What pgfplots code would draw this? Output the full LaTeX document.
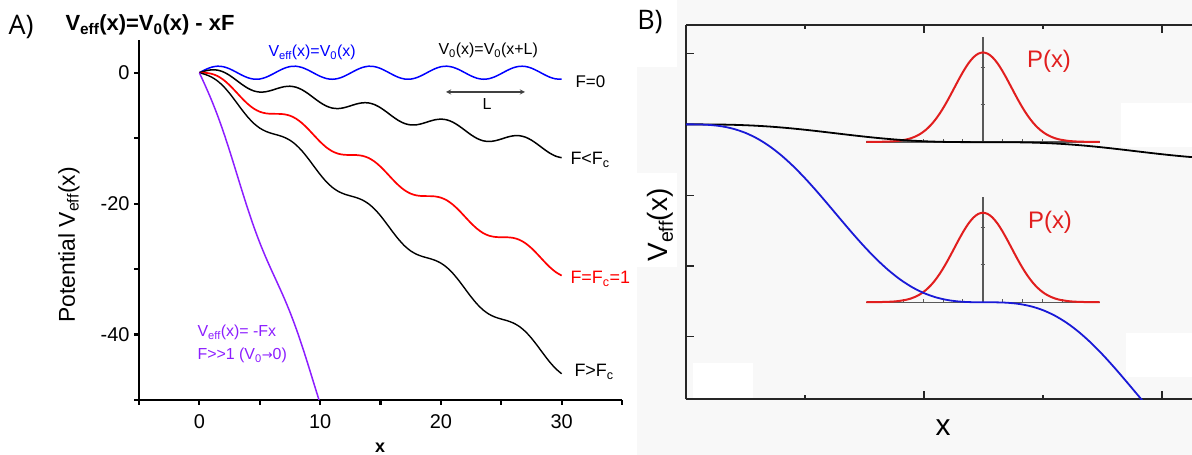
\documentclass[border=0pt]{standalone}
\usepackage{fontspec}
\setmainfont{Liberation Sans}
\newfontfamily\lightfont{Open Sans}
\newfontfamily\djv{DejaVu Sans}
\usepackage{pgfplots}
\pgfplotsset{compat=1.18}
\usepackage{pgfplotstable}
\definecolor{vio}{RGB}{140,30,255}
\definecolor{bred}{RGB}{225,30,30}
\definecolor{bblue}{RGB}{25,25,215}
\definecolor{bgB}{RGB}{248,248,248}
\newcommand{\fs}[1]{\fontsize{#1}{#1}\selectfont}

\pgfplotstableread{
x F0 F04 F1 F15
0 0 0 0 0
0.5 0.4794 0.2794 -0.0206 -0.2706
1 0.8415 0.4415 -0.1585 -0.6585
1.5 0.9975 0.3975 -0.5025 -1.2525
2 0.9093 0.1093 -1.0907 -2.0907
2.5 0.5985 -0.4015 -1.9015 -3.1515
3 0.1411 -1.0589 -2.8589 -4.3589
3.5 -0.3508 -1.7508 -3.8508 -5.6008
4 -0.7568 -2.3568 -4.7568 -6.7568
4.5 -0.9775 -2.7775 -5.4775 -7.7275
5 -0.9589 -2.9589 -5.9589 -8.4589
5.5 -0.7055 -2.9055 -6.2055 -8.9555
6 -0.2794 -2.6794 -6.2794 -9.2794
6.5 0.2151 -2.3849 -6.2849 -9.5349
7 0.6570 -2.1430 -6.3430 -9.8430
7.5 0.9380 -2.0620 -6.5620 -10.3120
8 0.9894 -2.2106 -7.0106 -11.0106
8.5 0.7985 -2.6015 -7.7015 -11.9515
9 0.4121 -3.1879 -8.5879 -13.0879
9.5 -0.0752 -3.8752 -9.5752 -14.3252
10 -0.5440 -4.5440 -10.5440 -15.5440
10.5 -0.8797 -5.0797 -11.3797 -16.6297
11 -1.0000 -5.4000 -12.0000 -17.5000
11.5 -0.8755 -5.4755 -12.3755 -18.1255
12 -0.5366 -5.3366 -12.5366 -18.5366
12.5 -0.0663 -5.0663 -12.5663 -18.8163
13 0.4202 -4.7798 -12.5798 -19.0798
13.5 0.8038 -4.5962 -12.6962 -19.4462
14 0.9906 -4.6094 -13.0094 -20.0094
14.5 0.9349 -4.8651 -13.5651 -20.8151
15 0.6503 -5.3497 -14.3497 -21.8497
15.5 0.2065 -5.9935 -15.2935 -23.0435
16 -0.2879 -6.6879 -16.2879 -24.2879
16.5 -0.7118 -7.3118 -17.2118 -25.4618
17 -0.9614 -7.7614 -17.9614 -26.4614
17.5 -0.9756 -7.9756 -18.4756 -27.2256
18 -0.7510 -7.9510 -18.7510 -27.7510
18.5 -0.3425 -7.7425 -18.8425 -28.0925
19 0.1499 -7.4501 -18.8501 -28.3501
19.5 0.6055 -7.1945 -18.8945 -28.6445
20 0.9129 -7.0871 -19.0871 -29.0871
20.5 0.9968 -7.2032 -19.5032 -29.7532
21 0.8367 -7.5633 -20.1633 -30.6633
21.5 0.4716 -8.1284 -21.0284 -31.7784
22 -0.0089 -8.8089 -22.0089 -33.0089
22.5 -0.4872 -9.4872 -22.9872 -34.2372
23 -0.8462 -10.0462 -23.8462 -35.3462
23.5 -0.9981 -10.3981 -24.4981 -36.2481
24 -0.9056 -10.5056 -24.9056 -36.9056
24.5 -0.5914 -10.3914 -25.0914 -37.3414
25 -0.1324 -10.1324 -25.1324 -37.6324
25.5 0.3591 -9.8409 -25.1409 -37.8909
26 0.7626 -9.6374 -25.2374 -38.2374
26.5 0.9794 -9.6206 -25.5206 -38.7706
27 0.9564 -9.8436 -26.0436 -39.5436
27.5 0.6997 -10.3003 -26.8003 -40.5503
28 0.2709 -10.9291 -27.7291 -41.7291
28.5 -0.2238 -11.6238 -28.7238 -42.9738
29 -0.6636 -12.2636 -29.6636 -44.1636
29.5 -0.9410 -12.7410 -30.4410 -45.1910
30 -0.9880 -12.9880 -30.9880 -45.9880
}\tabA

\pgfplotstableread{
x V
0 0
0.5 -2.0206
1 -4.1585
1.5 -6.5025
2 -9.0907
2.5 -11.9015
3 -14.8589
3.5 -17.8508
4 -20.7568
4.5 -23.4775
5 -25.9589
5.5 -28.2055
6 -30.2794
6.5 -32.2849
7 -34.3430
7.5 -36.5620
8 -39.0106
8.5 -41.7015
9 -44.5879
9.5 -47.5752
10 -50.5440
}\tabP

\pgfplotstableread{
u b k
0 0 0
0.25 -0.0026 -0.0003
0.5 -0.0206 -0.0021
0.75 -0.0684 -0.0068
1.0 -0.1585 -0.0159
1.25 -0.3010 -0.0301
1.5 -0.5025 -0.0503
1.75 -0.7660 -0.0766
2.0 -1.0907 -0.1091
2.25 -1.4719 -0.1472
2.5 -1.9015 -0.1902
2.75 -2.3683 -0.2368
3.0 -2.8589 -0.2859
3.25 -3.3582 -0.3358
3.5 -3.8508 -0.3851
3.75 -4.3216 -0.4322
4.0 -4.7568 -0.4757
4.25 -5.1450 -0.5145
4.5 -5.4775 -0.5478
4.75 -5.7493 -0.5749
5.0 -5.9589 -0.5959
5.25 -6.1089 -0.6109
5.5 -6.2055 -0.6206
5.75 -6.2583 -0.6258
6.0 -6.2794 -0.6279
6.25 -6.2832 -0.6283
6.5 -6.2849 -0.6285
6.75 -6.3000 -0.6300
7.0 -6.3430 -0.6343
7.25 -6.4268 -0.6427
7.5 -6.5620 -0.6562
7.75 -6.7554 -0.6755
8.0 -7.0106 -0.7011
8.25 -7.3276 -0.7328
8.5 -7.7015 -0.7702
8.75 -8.1253 -0.8125
9.0 -8.5879 -0.8588
9.25 -9.0761 -0.9076
9.5 -9.5752 -0.9575
9.75 -10.0695 -1.0070
10.0 -10.5440 -1.0544
10.25 -10.9846 -1.0985
10.5 -11.3797 -1.1380
10.75 -11.7200 -1.1720
}\tabB

\pgfplotstableread{
u up lo
3.79 -0.619 -6.279
4.04 -0.616 -6.276
4.24 -0.608 -6.268
4.44 -0.585 -6.245
4.64 -0.530 -6.190
4.74 -0.481 -6.141
4.84 -0.412 -6.072
4.94 -0.318 -5.978
5.04 -0.192 -5.852
5.14 -0.031 -5.691
5.24 0.168 -5.492
5.34 0.406 -5.254
5.44 0.679 -4.981
5.54 0.980 -4.680
5.64 1.297 -4.363
5.74 1.613 -4.047
5.84 1.910 -3.750
5.94 2.169 -3.491
6.04 2.369 -3.291
6.14 2.496 -3.164
6.24 2.540 -3.120
6.34 2.496 -3.164
6.44 2.369 -3.291
6.54 2.169 -3.491
6.64 1.910 -3.750
6.74 1.613 -4.047
6.84 1.297 -4.363
6.94 0.980 -4.680
7.04 0.679 -4.981
7.14 0.406 -5.254
7.24 0.168 -5.492
7.34 -0.031 -5.691
7.44 -0.192 -5.852
7.54 -0.318 -5.978
7.64 -0.412 -6.072
7.74 -0.481 -6.141
7.84 -0.530 -6.190
8.04 -0.585 -6.245
8.24 -0.608 -6.268
8.44 -0.616 -6.276
8.69 -0.619 -6.279
}\tabG

\begin{document}
\begin{tikzpicture}
\path[use as bounding box] (0,0) rectangle (1192bp,455bp);
% panel B background
\fill[bgB] (637bp,0) rectangle (1192bp,455bp);
\fill[white] (637bp,388bp) rectangle (677bp,455bp);
\fill[white] (637bp,188bp) rectangle (677bp,282bp);
\fill[white] (693bp,57bp) rectangle (753bp,92bp);
\fill[white] (1121bp,308bp) rectangle (1192bp,352bp);
\fill[white] (1126bp,78bp) rectangle (1192bp,122bp);

% ---------------- Panel A ----------------
\begin{axis}[at={(139bp,55bp)}, anchor=south west, scale only axis,
  width=483bp, height=360bp,
  xmin=-5, xmax=35, ymin=-50, ymax=5,
  axis x line=bottom, axis y line=left,
  axis line style={-, line width=2.2bp, black},
  tick align=outside, major tick length=5bp,
  every tick/.style={black, line width=2.2bp},
  xtick={-5,0,...,35}, xticklabels={,0,,10,,20,,30,},
  ytick={-50,-40,...,0}, yticklabels={,-40,,-20,,0},
  /pgf/number format/assume math mode=true,
  tick label style={font=\fs{20}},
  xticklabel style={yshift=-6bp},
  yticklabel style={xshift=-1bp},
  clip=true]
\addplot[blue, line width=1.5bp, smooth] table[x=x,y=F0]{\tabA};
\addplot[black, line width=1.5bp, smooth] table[x=x,y=F04]{\tabA};
\addplot[red, line width=1.7bp, smooth] table[x=x,y=F1]{\tabA};
\addplot[black, line width=1.4bp, smooth] table[x=x,y=F15]{\tabA};
\addplot[vio, line width=1.5bp, smooth] table[x=x,y=V]{\tabP};
\end{axis}

% Panel A texts
\node[font=\lightfont\fs{27}] at (21bp,428bp) {A)};
\node[anchor=base west, font=\bfseries\fs{22}] at (62bp,424bp) {V\textsubscript{eff}(x)=V\textsubscript{0}(x) - xF};
\node[anchor=base west, font=\fs{16}, text=blue] at (265bp,398bp) {V\textsubscript{eff}(x)=V\textsubscript{0}(x)};
\node[anchor=base west, font=\fs{16}] at (435bp,400bp) {V\textsubscript{0}(x)=V\textsubscript{0}(x+L)};
\node[anchor=base west, font=\fs{17}] at (572bp,367bp) {F=0};
\draw[<->, >=stealth, black!75, line width=1.3bp] (446bp,363bp) -- (525bp,363bp);
\node[anchor=base, font=\fs{16}] at (487bp,345bp) {L};
\node[anchor=base west, font=\fs{18}] at (567bp,290bp) {F<F\textsubscript{c}};
\node[anchor=base west, font=\fs{18}, text=red] at (567bp,171bp) {F=F\textsubscript{c}=1};
\node[anchor=base west, font=\fs{18}] at (571bp,78bp) {F>F\textsubscript{c}};
\node[anchor=base west, font=\fs{16}, text=vio] at (194bp,118bp) {V\textsubscript{eff}(x)= -Fx};
\node[anchor=base west, font=\fs{16}, text=vio] at (194bp,95bp) {F>{}>1 (V\textsubscript{0}{\djv\fs{13}→}0)};
\node[rotate=90, font=\fs{23}] at (69bp,210bp) {Potential V\textsubscript{eff}(x)};
\node[anchor=base, font=\bfseries\fs{18}] at (380bp,3bp) {x};

% ---------------- Panel B ----------------
\begin{axis}[at={(686bp,55.7bp)}, anchor=south west, scale only axis,
  width=506bp, height=374.3bp,
  xmin=0, xmax=10.632, ymin=-9.71, ymax=3.51,
  axis x line=box, axis y line=left,
  axis line style={-, line width=1.6bp, black!85},
  tick align=inside,
  xtick={5,10}, minor xtick={2.5,7.5}, ytick={-7.5,-5,...,2.5},
  xticklabels={}, yticklabels={},
  major tick length=8bp, minor tick length=4bp,
  every tick/.style={black!85, line width=1.3bp},
  clip=true]
% inset axes
\draw[black!65, line width=1.2bp] (axis cs:6.24,-0.62) -- (axis cs:6.24,3.095);
\draw[black!65, line width=1.2bp] (axis cs:3.79,-0.62) -- (axis cs:8.69,-0.62);
\draw[black!65, line width=1.2bp] (axis cs:6.24,-6.28) -- (axis cs:6.24,-2.558);
\draw[black!65, line width=1.2bp] (axis cs:3.79,-6.28) -- (axis cs:8.69,-6.28);
\pgfplotsinvokeforeach{4.56,4.98,5.40,5.82,6.66,7.08,7.50,7.92}{
  \draw[black!65, line width=1bp] (axis cs:#1,-0.62) -- (axis cs:#1,-0.50);
  \draw[black!65, line width=1bp] (axis cs:#1,-6.28) -- (axis cs:#1,-6.16);
}
\pgfplotsinvokeforeach{0.70,2.02,-4.96,-3.64}{
  \draw[black!65, line width=1bp] (axis cs:6.19,#1) -- (axis cs:6.28,#1);
}
\addplot[bred, line width=2bp, smooth] table[x=u,y=up]{\tabG};
\addplot[bred, line width=2bp, smooth] table[x=u,y=lo]{\tabG};
\addplot[black, line width=1.8bp, smooth] table[x=u,y=k]{\tabB};
\addplot[bblue, line width=1.8bp, smooth] table[x=u,y=b]{\tabB};
\end{axis}

% Panel B texts
\node[font=\lightfont\fs{27}] at (650bp,433bp) {B)};
\node[rotate=90, font=\fs{28}] at (660bp,230bp) {V\textsubscript{eff}(x)};
\node[font=\fs{30}] at (943bp,27bp) {x};
\node[font=\fs{24}, text=bred] at (1049bp,394bp) {P(x)};
\node[font=\fs{24}, text=bred] at (1050bp,233bp) {P(x)};
\end{tikzpicture}
\end{document}
